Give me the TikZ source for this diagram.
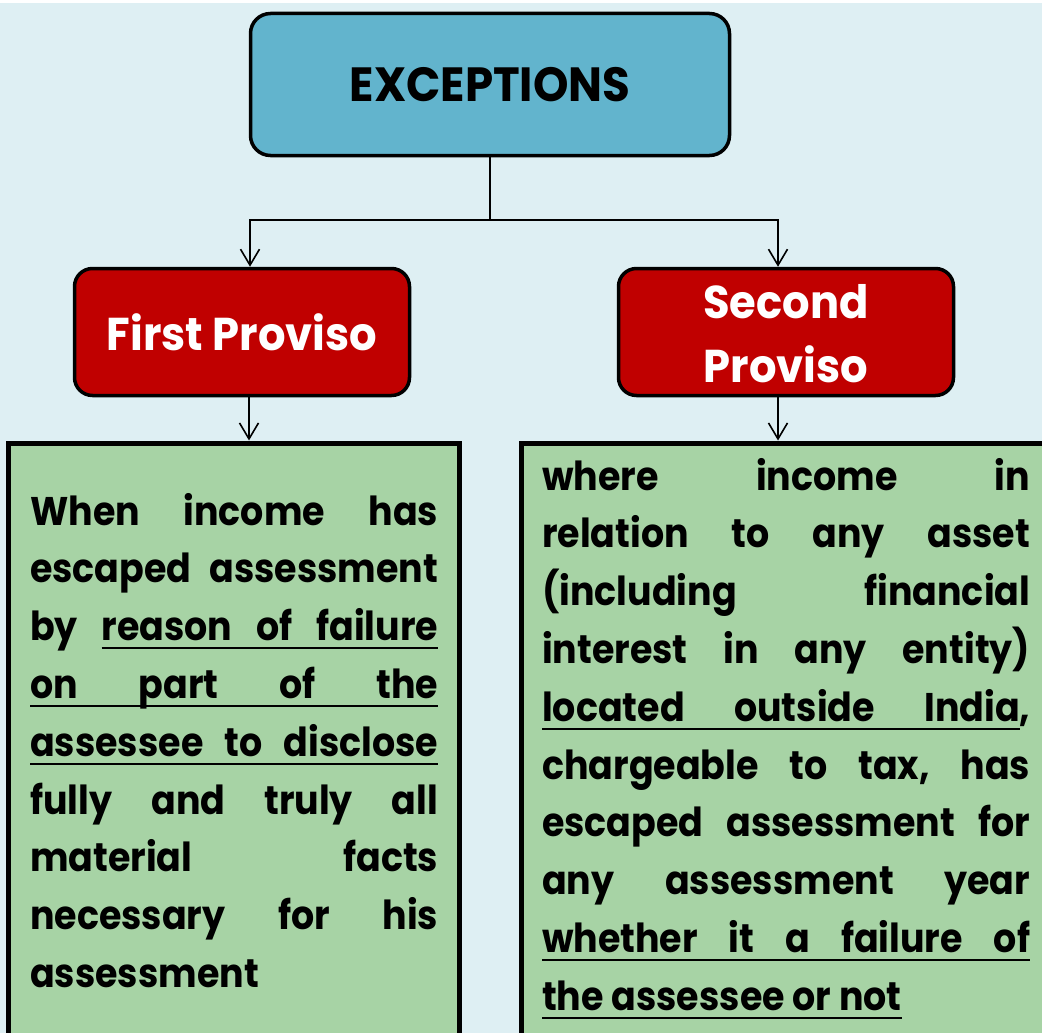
\documentclass[tikz,border=0pt]{standalone}
\usepackage{fontspec}
\setmainfont{Poppins}
\newfontfamily\bodyf{Poppins}[FakeStretch=0.91]
\newfontfamily\titlef{Poppins}[FakeStretch=0.94]
\usetikzlibrary{arrows.meta}
\definecolor{bgc}{HTML}{DEEFF3}
\definecolor{topc}{HTML}{62B4CD}
\definecolor{redc}{HTML}{C00000}
\definecolor{grnc}{HTML}{A7D3A5}
\newcommand\gp{\hskip 0.2em plus 1fil\relax}
\newcommand\ugp{\leaders\hrule height -0.16em depth 0.22em\hskip 0.2em plus 1fil\relax}
\newcommand\uw[1]{\setbox0=\hbox{#1}\rlap{\rule[-0.22em]{\wd0}{0.06em}}\box0}
\newcommand\Lline[1]{\hbox to 408pt{#1}}
\newcommand\Rline[1]{\hbox to 488pt{#1}}
\tikzset{
  topbox/.style={draw=black, line width=3.5pt, fill=topc, rounded corners=20pt, minimum width=479pt, minimum height=142pt, inner sep=0pt, font=\titlef\bfseries\fontsize{48}{58}\selectfont},
  redbox/.style={draw=black, line width=3.5pt, fill=redc, rounded corners=18pt, minimum width=335pt, minimum height=127pt, inner sep=0pt, text=white, align=center, font=\titlef\bfseries\fontsize{46}{64}\selectfont},
  grnbox/.style={draw=black, line width=5pt, fill=grnc, inner sep=0pt},
  bodytext/.style={anchor=base west, inner sep=0pt, font=\bodyf\bfseries\fontsize{40}{57.8}\selectfont},
  conn/.style={line width=1.6pt, draw=black},
  arr/.style={conn, -{Straight Barb[length=16pt,width=19pt]}}
}
\begin{document}
\begin{tikzpicture}[x=1pt, y=-1pt]
\useasboundingbox (0,0) rectangle (1042,1033);
\clip (0,0) rectangle (1042,1033);
\fill[white] (0,0) rectangle (1042,1033);
\fill[bgc] (0,3) rectangle (1042,1033);

\node[topbox] (exc) at (490,84.5) {EXCEPTIONS};
\node[redbox] (fp) at (242,332) {First Proviso};
\node[redbox] (sp) at (786,332) {};
\node[inner sep=0pt, text=white, align=center, font=\titlef\bfseries\fontsize{46}{64}\selectfont] (spt) at (786,334) {Second\\Proviso};

\node[grnbox, minimum width=451pt, minimum height=640pt] (fpbox) at (233.5,763) {};
\node[grnbox, minimum width=560pt, minimum height=640pt] (spbox) at (801,763) {};

\coordinate (j) at (490,220);
\draw[conn] (exc.south) -- (j);
\draw[arr] (j) -| ([xshift=8pt]fp.north);
\draw[arr] (j) -| ([xshift=-8pt]sp.north);
\draw[arr] ([xshift=7pt]fp.south) -- ([xshift=7pt]fp.south |- fpbox.north);
\draw[arr] ([xshift=-8pt]sp.south) -- ([xshift=-8pt]sp.south |- spbox.north);

\node[bodytext] (t1) at (30,525) {\vtop{\baselineskip=57.8pt
\Lline{When\gp income\gp has}
\Lline{escaped\gp assessment}
\Lline{by\gp\uw{reason}\ugp\uw{of}\ugp\uw{failure}}
\Lline{\uw{on}\ugp\uw{part}\ugp\uw{of}\ugp\uw{the}}
\Lline{\uw{assessee}\ugp\uw{to}\ugp\uw{disclose}}
\Lline{fully\gp and\gp truly\gp all}
\Lline{material\gp facts}
\Lline{necessary\gp for\gp his}
\Lline{assessment\hfil}}};

\node[bodytext] (t2) at (542,490) {\vtop{\baselineskip=57.8pt
\Rline{where\gp income\gp in}
\Rline{relation\gp to\gp any\gp asset}
\Rline{(including\gp financial}
\Rline{interest\gp in\gp any\gp entity)}
\Rline{\uw{located}\ugp\uw{outside}\ugp\uw{India},}
\Rline{chargeable\gp to\gp tax,\gp has}
\Rline{escaped\gp assessment\gp for}
\Rline{any\gp assessment\gp year}
\Rline{\uw{whether}\ugp\uw{it}\ugp\uw{a}\ugp\uw{failure}\ugp\uw{of}}
\Rline{\uw{the assessee or not}\hfil}}};
\end{tikzpicture}
\end{document}
